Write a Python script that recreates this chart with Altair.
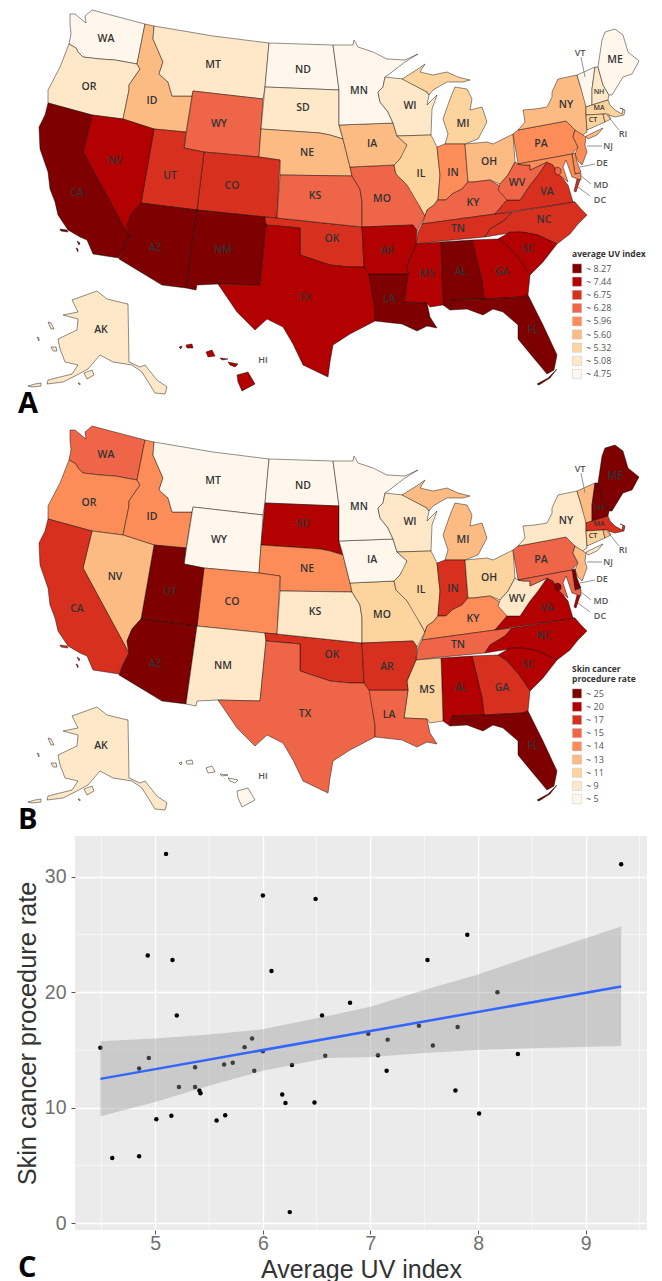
import altair as alt

# State outlines, in map units (1 unit = 1 px of panel A).
STATE_SHAPES = {
 "WA": [[(70,12),(75,12),(86,21),(85,14),(92,8),(145,22),(137,62),(115,58),(100,57),(83,55),(78,50),(76,46),(69,42),(71,32),(70,22)]],
 "OR": [[(69,42),(76,46),(78,50),(83,55),(100,57),(115,58),(137,62),(140,67),(129,83),(129,88),(123,117),(92,113),(48,101),(48,88),(60,65)]],
 "ID": [[(145,22),(154,24),(153,37),(163,60),(159,72),(168,80),(172,94),(192,94),(186,130),(154,127),(123,117),(129,88),(129,83),(140,67),(137,62)]],
 "MT": [[(154,24),(213,34),(269,41),(265,85),(263,97),(193,89),(192,94),(172,94),(168,80),(159,72),(163,60),(153,37)]],
 "WY": [[(193,89),(263,97),(261,127),(259,155),(204,150),(184,146)]],
 "ND": [[(269,41),(333,43),(336,65),(339,88),(265,85)]],
 "SD": [[(265,85),(339,88),(339,123),(343,137),(330,133),(320,131),(261,127)]],
 "NE": [[(261,127),(320,131),(330,133),(343,137),(350,165),(352,174),(280,173),(280,158),(259,155)]],
 "CO": [[(204,150),(259,155),(280,158),(277,216),(265,215),(197,208)]],
 "UT": [[(154,127),(186,130),(184,146),(204,150),(197,208),(141,201)]],
 "NV": [[(92,113),(123,117),(154,127),(141,201),(132,211),(127,223),(129,235),(83,150)]],
 "CA": [[(48,101),(92,113),(83,150),(129,235),(123,247),(119,256),(93,252),(87,238),(80,235),(68,228),(58,213),(55,200),(50,187),(48,170),(40,147),(39,125),(45,113)],
        [(60,227),(67,228),(68,230),(61,229)],[(77,239),(80,241),(79,243)],[(76,246),(78,247),(78,250)]],
 "AZ": [[(141,201),(197,208),(186,286),(162,283),(119,257),(123,247),(129,235),(127,223),(132,211)]],
 "NM": [[(197,208),(265,215),(266,223),(260,283),(218,282),(197,283),(196,288),(186,286)]],
 "OK": [[(265,215),(277,216),(362,225),(364,265),(350,265),(330,263),(300,253),(300,226),(266,223)]],
 "TX": [[(266,223),(300,226),(300,253),(330,263),(350,265),(364,265),(370,272),(375,307),(375,319),(350,332),(333,343),(330,360),(328,375),(303,363),(293,342),(283,325),(267,317),(255,328),(237,310),(218,282),(260,283)]],
 "KS": [[(280,173),(352,174),(360,187),(362,200),(362,225),(277,216)]],
 "MO": [[(350,165),(394,163),(396,172),(407,183),(418,195),(420,205),(425,214),(417,229),(413,223),(362,225),(362,200),(360,187),(352,174)]],
 "IA": [[(339,123),(393,121),(397,134),(407,143),(405,150),(400,157),(394,163),(350,165),(343,137)]],
 "MN": [[(333,43),(353,43),(354,38),(358,45),(373,50),(387,57),(405,58),(418,52),(405,60),(388,73),(385,75),(383,85),(378,90),(380,100),(388,110),(393,121),(339,123),(339,88),(336,65)]],
 "WI": [[(385,75),(403,77),(427,90),(429,93),(427,103),(437,93),(432,107),(431,133),(397,134),(393,121),(388,110),(380,100),(378,90),(383,85)]],
 "MI": [[(402,77),(418,67),(425,62),(420,70),(433,73),(447,70),(458,75),(470,78),(463,80),(447,80),(433,88),(429,93),(427,90)],
        [(445,142),(448,132),(443,117),(450,97),(455,85),(467,87),(472,97),(470,108),(482,105),(487,120),(478,137),(465,142)]],
 "IL": [[(397,134),(431,133),(437,145),(440,173),(438,197),(434,203),(427,208),(425,214),(420,205),(407,183),(396,172),(394,163),(400,157),(407,143)]],
 "IN": [[(437,145),(445,142),(465,142),(468,180),(462,187),(452,192),(446,198),(438,198),(440,173)]],
 "OH": [[(465,142),(487,140),(493,142),(513,132),(515,160),(508,173),(500,182),(490,178),(473,180),(468,180)]],
 "KY": [[(468,180),(473,180),(490,178),(500,184),(507,198),(495,212),(422,222),(425,214),(427,208),(434,203),(438,198),(446,198),(452,192),(462,187)]],
 "TN": [[(422,222),(495,212),(512,210),(505,218),(490,227),(485,235),(442,239),(416,242),(418,230)]],
 "VA": [[(495,212),(507,198),(520,198),(530,183),(538,173),(547,160),(553,163),(560,173),(568,183),(573,200),(575,200)],
        [(577,177),(580,178),(576,190),(574,189)]],
 "WV": [[(515,160),(518,162),(523,163),(530,163),(530,168),(547,160),(538,173),(530,183),(520,198),(507,198),(498,188),(500,182),(508,173)]],
 "PA": [[(513,132),(518,128),(566,119),(575,128),(573,135),(578,145),(572,152),(518,162)]],
 "NY": [[(518,128),(525,120),(523,108),(535,107),(547,105),(552,95),(552,90),(558,77),(577,73),(580,83),(586,100),(586,113),(587,130),(581,134),(575,128),(566,119)],
        [(586,134),(603,126),(597,133),(588,137)]],
 "VT": [[(577,73),(595,65),(592,87),(592,103),(586,105),(580,83)]],
 "NH": [[(595,65),(598,65),(603,83),(609,93),(608,98),(592,103),(592,87)]],
 "ME": [[(598,65),(602,38),(605,30),(615,27),(623,33),(628,50),(639,59),(632,72),(623,75),(612,93),(609,93),(603,83)]],
 "MA": [[(586,105),(592,103),(608,98),(610,103),(615,108),(622,112),(623,107),(620,106),(625,108),(624,113),(615,115),(605,112),(586,113)]],
 "CT": [[(586,113),(603,112),(605,120),(587,128)]],
 "RI": [[(603,112),(608,112),(611,117),(605,120)]],
 "NJ": [[(575,128),(586,135),(585,143),(587,150),(582,163),(578,159),(575,152),(578,145),(573,135)]],
 "DE": [[(572,152),(575,151),(577,160),(581,170),(575,172)]],
 "MD": [[(518,162),(572,152),(575,172),(581,171),(581,178),(572,175),(566,158),(563,165),(568,180),(558,172),(553,163),(547,160),(530,168),(530,163),(523,163)]],
 "DC": [[(555,166),(558,165),(561,167),(561,171),(558,173),(555,171)]],
 "NC": [[(512,210),(575,200),(581,207),(587,213),(578,222),(570,232),(557,242),(538,233),(518,230),(503,232),(485,235),(490,227),(505,218)]],
 "SC": [[(498,237),(510,230),(523,230),(538,233),(557,242),(543,260),(530,273),(520,258),(507,243)]],
 "GA": [[(472,238),(498,237),(507,243),(520,258),(530,273),(528,293),(522,295),(484,297),(482,280)]],
 "AL": [[(441,240),(472,238),(482,280),(484,297),(452,298),(450,308),(443,303),(442,270)]],
 "MS": [[(416,242),(441,240),(442,270),(443,303),(430,305),(427,301),(404,300),(408,272),(407,263)]],
 "LA": [[(369,272),(408,272),(404,300),(427,301),(430,315),(437,326),(427,324),(417,329),(402,322),(375,319),(375,307)]],
 "AR": [[(362,225),(413,223),(417,229),(416,242),(407,263),(408,272),(369,272),(364,265)]],
 "FL": [[(452,298),(484,297),(522,295),(528,293),(543,323),(557,353),(554,368),(547,372),(527,348),(518,337),(518,323),(503,310),(493,307),(483,313),(467,307),(450,308)],
        [(537,382),(548,376),(557,367),(550,376),(539,383)]],
 "AK": [[(72,298),(97,289),(107,297),(128,302),(129,360),(140,365),(145,363),(157,378),(167,385),(165,392),(155,391),(142,370),(132,363),(113,360),(100,353),(88,367),(77,373),(63,380),(47,382),(48,378),(72,372),(78,363),(65,360),(60,347),(58,337),(77,328),(78,317),(63,313),(78,310)],
        [(84,371),(92,368),(94,373),(87,377)],[(48,320),(51,321),(54,327),(51,327)],[(51,345),(56,345),(57,349),(53,349)],[(37,335),(39,336),(39,339)],[(28,384),(35,382),(41,381),(41,384),(32,385)],[(78,381),(80,381),(80,383)]],
 "HI": [[(237,373),(248,370),(255,382),(242,389),(238,380)],[(228,360),(238,362),(235,365),(230,363)],[(220,356),(228,357),(222,358)],[(206,350),(212,348),(215,354),(208,355)],[(186,343),(192,342),(193,346),(187,346)],[(179,345),(182,344),(181,347)]],
}

CLASS_COLORS = ["#7f0000","#b30000","#d7301f","#ef6548","#fc8d59","#fdbb84","#fdd49e","#fee8c8","#fff7ec"]

UV_LABELS = ["~ 8.27","~ 7.44","~ 6.75","~ 6.28","~ 5.96","~ 5.60","~ 5.32","~ 5.08","~ 4.75"]
UV_CLASSES = ["CA AZ NM LA AL FL","NV TX AR MS GA SC HI","UT CO OK TN NC VA","WY KS MO KY WV DC","IN PA NJ MD DE",
              "ID NE IA OH NY","MI IL CT MA RI","OR MT SD WI AK NH","WA ND MN VT ME"]

RATE_LABELS = ["~ 25","~ 20","~ 17","~ 15","~ 14","~ 13","~ 11","~ 9","~ 5"]
RATE_CLASSES = ["UT AZ ME NH FL DE DC","SD AL NC SC VA","IN AR GA CA MA OK","WA TX LA TN PA MD","OR ID CO NE KY",
                "NV MI NJ VT RI","MO IL MS OH CT","KS NM WI NY WV AK","MT WY ND MN IA HI"]

STATE_LABELS = [("WA",106,37),("OR",89,85),("ID",152,99),("MT",213,63),("WY",219,122),("ND",303,68),("SD",303,106),
    ("NE",307,151),("KS",315,194),("UT",170,174),("CO",232,184),("NV",115,159),("CA",77,191),("AZ",155,246),("NM",223,248),
    ("TX",305,296),("AK",101,328),("OK",332,237),("AR",387,249),("LA",389,297),("MS",427,272),("AL",461,270),("GA",502,270),
    ("SC",528,247),("NC",544,218),("TN",458,227),("FL",533,328),("MN",359,89),("WI",410,104),("MI",463,122),("IA",372,142),
    ("IL",421,172),("IN",453,171),("OH",489,160),("KY",473,201),("MO",382,197),("WV",517,181),("VA",547,190),("PA",541,142),
    ("NY",566,103),("ME",615,58)]
SMALL_LABELS = [("NH",599,90),("MA",599,106),("CT",593,118)]
CALLOUT_LABELS = [("VT",580,51),("RI",623,132),("NJ",608,144),("DE",602,161),("MD",601,183),("DC",600,198),("HI",263,358)]
LEADERS = [[(581,55),(585,75)],[(619,128),(607,113)],[(602,144),(587,144)],[(595,162),(580,165)],[(591,182),(580,173)],[(590,194),(578,185)]]

# Scatter
UV_INDEX = [5.10,6.00,6.49,4.93,5.16,6.08,5.20,6.55,4.49,4.94,4.85,5.37,5.22,5.37,5.41,5.42,5.64,5.72,5.83,5.90,6.00,5.92,6.27,6.58,6.18,6.21,6.48,5.01,5.15,5.57,5.65,4.60,4.85,6.25,
            9.33,7.90,7.53,6.81,8.18,6.98,7.16,7.45,7.81,7.58,7.07,7.15,8.37,7.79,8.01]
PROC_RATE = [32.0,28.4,28.1,23.2,22.8,21.85,18.0,18.0,15.2,14.3,13.4,13.5,11.8,11.8,11.5,11.25,13.75,13.9,15.25,16.0,14.9,13.2,13.7,14.5,11.15,10.4,10.45,9.0,9.3,8.9,9.35,5.65,5.8,0.95,
             31.1,25.0,22.8,19.1,20.0,16.4,15.9,17.1,17.0,15.4,14.55,13.2,14.65,11.5,9.5]
FIT_X = [4.49,9.33]
FIT_Y = [12.5,20.5]
BAND_X = [4.49,5.0,5.5,6.0,6.6,7.0,7.5,8.0,8.5,9.33]
BAND_LOW = [9.25,10.5,11.9,13.2,14.3,14.4,14.75,15.0,15.15,15.35]
BAND_HIGH = [15.75,16.0,16.35,16.8,17.95,18.75,20.2,21.55,23.15,25.7]
X_MINOR = [4.5,5.5,6.5,7.5,8.5,9.5]
Y_MINOR = [5,15,25]

PROJ = dict(type="identity", scale=1, translate=[-75,-8])
INK = "#333333"
FONT = "Open Sans"


def features(classes, labels):
    lookup = {s: labels[i] for i, group in enumerate(classes) for s in group.split()}
    out = []
    for code, rings in STATE_SHAPES.items():
        coords = [[[list(p) for p in r] + [list(r[0])]] for r in rings]
        out.append({"type": "Feature", "properties": {"state": code, "bin": lookup[code]},
                    "geometry": {"type": "MultiPolygon", "coordinates": coords}})
    return out


def text_layer(rows, size, color, weight=600):
    data = alt.Data(values=[{"s": s, "x": x, "y": y} for s, x, y in rows])
    return alt.Chart(data).mark_text(font=FONT, fontSize=size, color=color, fontWeight=weight, clip=False).encode(
        longitude="x:Q", latitude="y:Q", text="s:N").project(**PROJ)


def map_panel(classes, labels, title, letter, legend_y, height):
    shapes = alt.Chart(alt.Data(values=features(classes, labels))).mark_geoshape(
        stroke="#000000", strokeOpacity=0.55, strokeWidth=0.8, clip=False).encode(
        color=alt.Color("properties.bin:N", scale=alt.Scale(domain=labels, range=CLASS_COLORS),
            legend=alt.Legend(orient="none", legendX=497, legendY=legend_y, title=title, symbolType="square",
                symbolSize=85, symbolStrokeWidth=0.4, symbolStrokeColor="#bbbbbb", rowPadding=1.2,
                titleFont=FONT, titleFontSize=8.5, titleFontWeight="bold", titleColor="#333333", titlePadding=5,
                titleLineHeight=10, labelFont=FONT, labelFontSize=9, labelColor="#555555", labelOffset=4))
    ).project(**PROJ)
    lines = alt.Chart(alt.Data(values=[{"type": "Feature", "properties": {},
            "geometry": {"type": "LineString", "coordinates": [list(p) for p in l]}} for l in LEADERS])).mark_geoshape(
        filled=False, stroke="#777777", strokeWidth=0.8, clip=False).project(**PROJ)
    letter_data = alt.Data(values=[{"s": letter, "x": 18, "y": 411}])
    letter_mark = alt.Chart(letter_data).mark_text(font=FONT, fontSize=29, fontWeight="bold", color="#000000",
        align="left", baseline="alphabetic", clip=False).encode(longitude="x:Q", latitude="y:Q", text="s:N").project(**PROJ)
    return alt.layer(shapes, lines,
                     text_layer(STATE_LABELS, 10.5, INK),
                     text_layer(SMALL_LABELS, 7, INK),
                     text_layer(CALLOUT_LABELS, 9, "#555555"),
                     letter_mark).properties(width=572, height=height)


panel_a = map_panel(UV_CLASSES, UV_LABELS, "average UV index", "A", 240, 414)
panel_b = map_panel(RATE_CLASSES, RATE_LABELS, ["Skin cancer", "procedure rate"], "B", 239, 409)

x_scale = alt.Scale(domain=[4.254, 9.57], nice=False, zero=False)
y_scale = alt.Scale(domain=[-0.6, 33.55], nice=False, zero=False)
x_axis = alt.Axis(values=[5,6,7,8,9], format="d", domain=False, grid=True, gridColor="#ffffff", gridWidth=1.3,
        tickColor="#555555", tickSize=4, labelFont="Liberation Sans", labelFontSize=19.5, labelColor="#707070", labelPadding=0,
        title="Average UV index",
        titleFont="Liberation Sans", titleFontSize=25, titleFontWeight="normal", titleColor="#333333", titlePadding=5)
y_axis = alt.Axis(values=[0,10,20,30], format="d", domain=False, grid=True, gridColor="#ffffff", gridWidth=1.3,
        tickColor="#555555", tickSize=4, labelFont="Liberation Sans", labelFontSize=19.5, labelColor="#707070", labelPadding=5,
        title="Skin cancer procedure rate",
        titleFont="Liberation Sans", titleFontSize=25.3, titleFontWeight="normal", titleColor="#333333", titlePadding=4)
x_enc = alt.X("x:Q", scale=x_scale, axis=x_axis)
y_enc = alt.Y("y:Q", scale=y_scale, axis=y_axis)

points = alt.Chart(alt.Data(values=[{"x": a, "y": b} for a, b in zip(UV_INDEX, PROC_RATE)])).mark_circle(
    size=20, color="#000000", opacity=1).encode(x=x_enc, y=y_enc)
minor_x = alt.Chart(alt.Data(values=[{"x": v} for v in X_MINOR])).mark_rule(color="#ffffff", strokeWidth=0.6).encode(x=x_enc)
minor_y = alt.Chart(alt.Data(values=[{"y": v} for v in Y_MINOR])).mark_rule(color="#ffffff", strokeWidth=0.6).encode(y=y_enc)
band = alt.Chart(alt.Data(values=[{"x": a, "y": b, "hi": c} for a, b, c in zip(BAND_X, BAND_LOW, BAND_HIGH)])).mark_area(
    color="#999999", opacity=0.4).encode(x=x_enc, y=y_enc, y2="hi:Q")
fit = alt.Chart(alt.Data(values=[{"x": a, "y": b} for a, b in zip(FIT_X, FIT_Y)])).mark_line(
    color="#3366FF", strokeWidth=2.5).encode(x=x_enc, y=y_enc)
letter_c = alt.Chart(alt.Data(values=[{"s": "C"}])).mark_text(font=FONT, fontSize=29, fontWeight="bold", color="#000000",
    align="left", baseline="alphabetic").encode(x=alt.value(-57), y=alt.value(441), text="s:N")

panel_c = alt.layer(minor_x, minor_y, points, band, fit, letter_c).properties(
    width=572, height=394, view=alt.ViewBackground(fill="#EBEBEB", strokeWidth=0))

chart = alt.vconcat(panel_a, panel_b, panel_c, spacing=0).resolve_scale(color="independent").properties(
    padding={"left": 7, "top": 0, "right": 0, "bottom": 0}, background="#ffffff"
).configure_view(strokeWidth=0)

chart.save("out.html", embed_options={"renderer": "svg", "actions": False})
